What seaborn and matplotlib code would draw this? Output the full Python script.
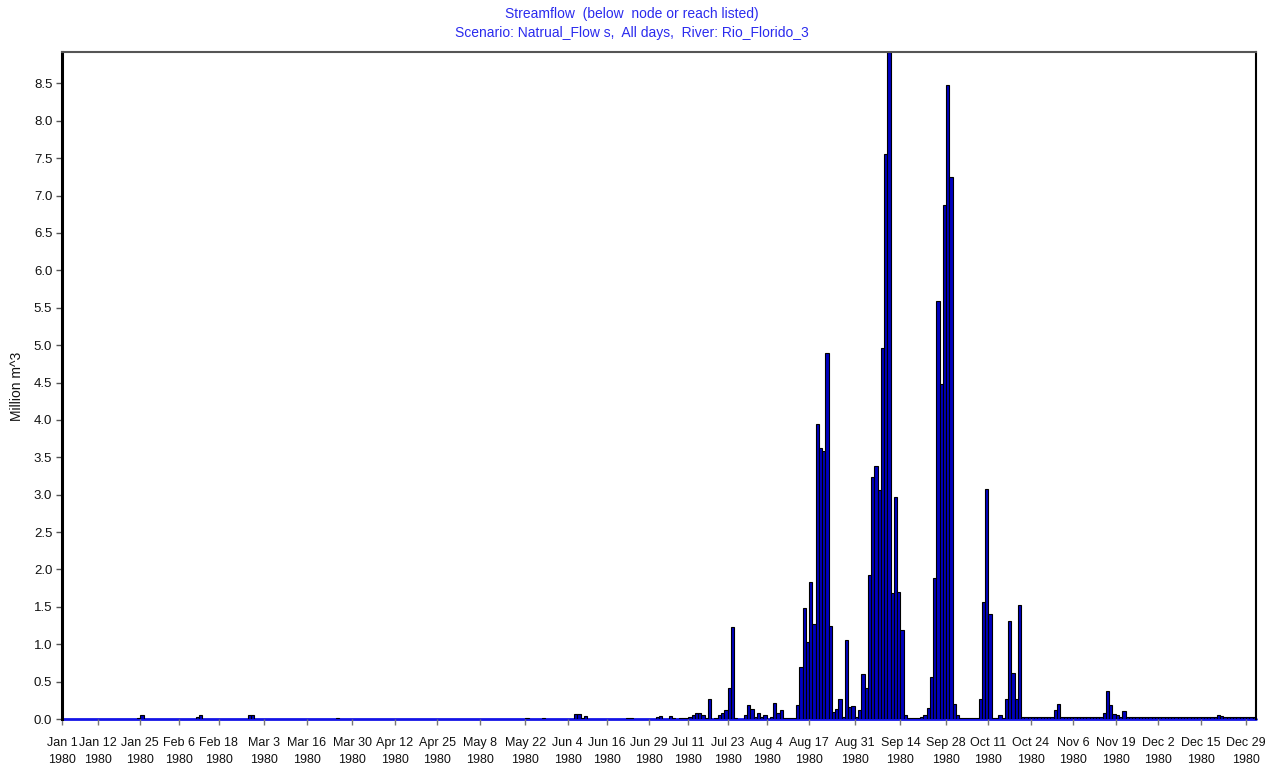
import numpy as np
import pandas as pd
import matplotlib
matplotlib.use("Agg")
import matplotlib.pyplot as plt
import seaborn as sns
from datetime import datetime

sns.set_theme(style="white")
plt.rcParams['font.family'] = ['Liberation Sans', 'DejaVu Sans']

# ---------------- data (million m^3 per day, 1980) ----------------
dates = pd.date_range("1980-01-01", "1980-12-31", freq="D")

early_dates = ["1980-01-24", "1980-01-25", "1980-02-11", "1980-02-12",
               "1980-02-27", "1980-02-28", "1980-03-25", "1980-05-22",
               "1980-05-27", "1980-06-06", "1980-06-07", "1980-06-08",
               "1980-06-09", "1980-06-22", "1980-06-23"]
early_flow = [0.02, 0.06, 0.03, 0.06,
              0.06, 0.05, 0.02, 0.02,
              0.02, 0.07, 0.07, 0.02,
              0.04, 0.02, 0.02]

jul_flow = [0.03, 0.04, 0.00, 0.00, 0.04, 0.02, 0.00, 0.01, 0.02, 0.02,
            0.03, 0.05, 0.08, 0.08, 0.05, 0.02, 0.27, 0.00, 0.02, 0.05,
            0.08, 0.12, 0.41, 1.23, 0.02, 0.00, 0.00, 0.05, 0.19, 0.13,
            0.03]
aug_flow = [0.08, 0.03, 0.05, 0.00, 0.03, 0.21, 0.08, 0.12, 0.02, 0.01,
            0.01, 0.02, 0.19, 0.69, 1.49, 1.03, 1.83, 1.27, 3.94, 3.62,
            3.58, 4.90, 1.24, 0.09, 0.13, 0.27, 0.03, 1.06, 0.16, 0.18,
            0.03]
sep_flow = [0.12, 0.60, 0.42, 1.92, 3.23, 3.38, 3.06, 4.96, 7.56, 8.92,
            1.68, 2.97, 1.70, 1.19, 0.06, 0.02, 0.02, 0.02, 0.02, 0.03,
            0.06, 0.15, 0.56, 1.89, 5.59, 4.48, 6.88, 8.48, 7.25, 0.20]
oct_flow = [0.05, 0.02, 0.02, 0.02, 0.02, 0.02, 0.02, 0.27, 1.57, 3.08,
            1.41, 0.02, 0.02, 0.05, 0.02, 0.27, 1.31, 0.62, 0.27, 1.53,
            0.03, 0.03, 0.03, 0.03, 0.03, 0.03, 0.03, 0.03, 0.03, 0.03,
            0.12]
nov_flow = [0.20, 0.03, 0.03, 0.03, 0.03, 0.03, 0.03, 0.03, 0.03, 0.03,
            0.03, 0.03, 0.03, 0.03, 0.08, 0.38, 0.19, 0.07, 0.05, 0.03,
            0.11, 0.03, 0.03, 0.03, 0.03, 0.03, 0.03, 0.03, 0.03, 0.03]
dec_flow = [0.03, 0.03, 0.03, 0.03, 0.03, 0.03, 0.03, 0.03, 0.03, 0.03,
            0.03, 0.03, 0.03, 0.03, 0.03, 0.03, 0.03, 0.03, 0.03, 0.05,
            0.04, 0.03, 0.03, 0.03, 0.03, 0.03, 0.03, 0.03, 0.03, 0.03,
            0.03]

tick_labels = ["Jan 1", "Jan 12", "Jan 25", "Feb 6", "Feb 18", "Mar 3",
               "Mar 16", "Mar 30", "Apr 12", "Apr 25", "May 8", "May 22",
               "Jun 4", "Jun 16", "Jun 29", "Jul 11", "Jul 23", "Aug 4",
               "Aug 17", "Aug 31", "Sep 14", "Sep 28", "Oct 11", "Oct 24",
               "Nov 6", "Nov 19", "Dec 2", "Dec 15", "Dec 29"]
y_ticks = [0.0, 0.5, 1.0, 1.5, 2.0, 2.5, 3.0, 3.5, 4.0, 4.5, 5.0, 5.5,
           6.0, 6.5, 7.0, 7.5, 8.0, 8.5]

# ---------------- assemble ----------------
flow = pd.Series(0.0, index=dates)
for d, v in zip(early_dates, early_flow):
    flow[pd.Timestamp(d)] = v
wet = jul_flow + aug_flow + sep_flow + oct_flow + nov_flow + dec_flow
flow.loc["1980-07-01":] = wet

df = pd.DataFrame({"day": np.arange(len(dates)), "flow": flow.values})

# ---------------- plot ----------------
fig = plt.figure(figsize=(12.75, 7.71), dpi=100)
ax = fig.add_axes([62 / 1275, 1 - 719 / 771, 1194 / 1275, 667 / 771])

sns.barplot(data=df, x="day", y="flow", native_scale=True, width=1.0,
            color="#0000C0", saturation=1, edgecolor="black", linewidth=0.8,
            errorbar=None, ax=ax)
for p in ax.patches:
    if p.get_height() == 0:
        p.set_edgecolor("none")

ax.axhline(0, color="#1414E6", lw=2.0, zorder=0.5, clip_on=False)

ax.set_xlim(-0.5, len(dates) - 0.5)
ax.set_ylim(0, flow.max())

tick_pos = [(datetime.strptime(f"{t} 1980", "%b %d %Y") - datetime(1980, 1, 1)).days - 0.5
            for t in tick_labels]
ax.set_xticks(tick_pos)
ax.set_xticklabels([f"{t}\n1980" for t in tick_labels], fontsize=9, color="#111111",
                   linespacing=1.6)
ax.set_yticks(y_ticks)
ax.set_yticklabels([f"{v:.1f}" for v in y_ticks], fontsize=9.5, color="#111111")
ax.tick_params(axis="x", direction="out", length=4, width=1, color="#777777", pad=9,
               bottom=True)
ax.tick_params(axis="y", direction="out", length=4, width=1, color="#555555", pad=3,
               left=True)
ax.set_xlabel("")
ax.set_ylabel("")

for side in ["left", "right"]:
    ax.spines[side].set_color("black")
ax.spines["left"].set_linewidth(2.2)
ax.spines["right"].set_linewidth(1.5)
ax.spines["top"].set_color("#555555")
ax.spines["top"].set_linewidth(1.5)
ax.spines["bottom"].set_visible(False)

fig.text(17 / 1275, 1 - 386 / 771, "Million m^3", rotation=90, ha="center",
         va="center", fontsize=10, color="#111111")
fig.text(632 / 1275, 1 - 14 / 771, "Streamflow  (below  node or reach listed)",
         ha="center", va="center", fontsize=10, color="#2B2BEE")
fig.text(632 / 1275, 1 - 33 / 771,
         "Scenario: Natrual_Flow s,  All days,  River: Rio_Florido_3",
         ha="center", va="center", fontsize=10, color="#2B2BEE")

fig.savefig("out.png", dpi=100, facecolor="white")
